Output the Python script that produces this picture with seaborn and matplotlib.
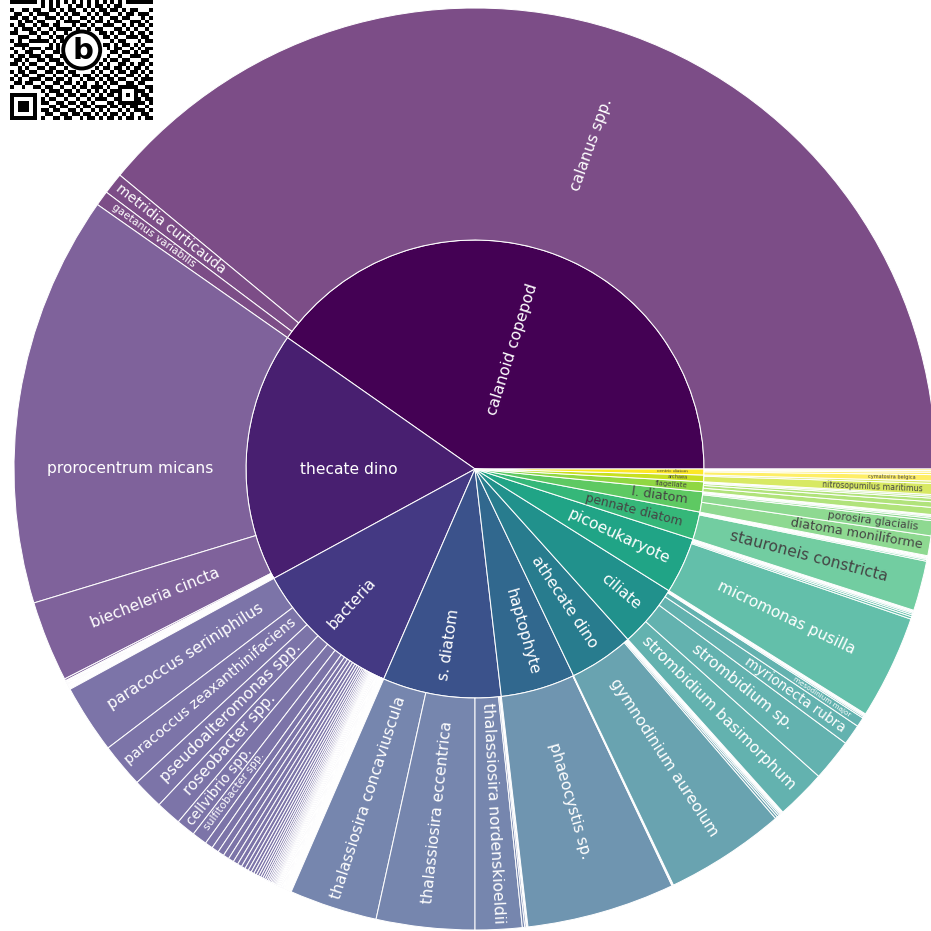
import matplotlib
matplotlib.use("Agg")
import matplotlib.pyplot as plt
import numpy as np
import seaborn as sns
from matplotlib.textpath import TextPath
from matplotlib.font_manager import FontProperties
from matplotlib.patches import Circle

# ---------------- plankton composition: groups (inner ring) and taxa (outer ring)
groups = ["calanoid copepod", "thecate dino", "bacteria", "s. diatom", "haptophyte",
          "athecate dino", "ciliate", "picoeukaryote", "pennate diatom", "l. diatom",
          "flagellate", "archaea", "centric diatom"]

calanoid_taxa = ["calanus spp.", "metridia curticauda", "gaetanus variabilis"]
calanoid_vals = [140.4, 2.7, 1.9]

thecate_taxa = ["prorocentrum micans", "biecheleria cincta"] + [""] * 30
thecate_vals = [51.9, 10.2,
                0.25, 0.1, 0.09, 0.08, 0.07, 0.07, 0.06, 0.06, 0.05, 0.05,
                0.05, 0.04, 0.04, 0.04, 0.04, 0.03, 0.03, 0.03, 0.03, 0.03,
                0.03, 0.02, 0.02, 0.02, 0.02, 0.02, 0.02, 0.02, 0.02, 0.02]

bacteria_taxa = ["paracoccus seriniphilus", "paracoccus zeaxanthinifaciens",
                 "pseudoalteromonas spp.", "roseobacter spp.", "cellvibrio spp.",
                 "sulfitobacter spp."] + [""] * 85
bacteria_vals = [8.7, 5.6, 3.9, 3.2, 2.4, 1.9,
                 1.0, 0.9, 0.8, 0.75, 0.7, 0.62, 0.56, 0.5, 0.46, 0.42,
                 0.38, 0.35, 0.32, 0.3, 0.28, 0.26, 0.24, 0.22, 0.2, 0.19,
                 0.18, 0.17, 0.16, 0.15, 0.14, 0.13, 0.12, 0.11, 0.1, 0.09,
                 0.08, 0.08, 0.07, 0.07, 0.06, 0.06, 0.05, 0.05, 0.04, 0.04,
                 0.04, 0.03, 0.03, 0.03, 0.03,
                 0.02, 0.02, 0.02, 0.02, 0.02, 0.02, 0.02, 0.02, 0.02, 0.02,
                 0.02, 0.02, 0.02, 0.02, 0.02, 0.02, 0.02, 0.02, 0.02, 0.02,
                 0.015, 0.015, 0.015, 0.015, 0.015, 0.015, 0.015, 0.015, 0.015, 0.015,
                 0.015, 0.015, 0.015, 0.015, 0.015, 0.015, 0.015, 0.015, 0.015, 0.015]

sdiatom_taxa = ["thalassiosira concaviuscula", "thalassiosira eccentrica",
                "thalassiosira nordenskioeldii", "", "", "", ""]
sdiatom_vals = [11.1, 12.4, 5.9, 0.3, 0.2, 0.1, 0.1]

haptophyte_taxa = ["phaeocystis sp.", "", ""]
haptophyte_vals = [18.7, 0.1, 0.1]

athecate_taxa = ["gymnodinium aureolum", "", "", "", "", "", "", "", ""]
athecate_vals = [15.2, 0.3, 0.25, 0.2, 0.15, 0.1, 0.1, 0.05, 0.05]

ciliate_taxa = ["strombidium basimorphum", "strombidium sp.", "myrionecta rubra",
                "mesodinium major", "", "", "", "", ""]
ciliate_vals = [6.3, 5.3, 2.6, 1.2, 0.2, 0.15, 0.1, 0.1, 0.05]

picoeuk_taxa = ["micromonas pusilla", "", "", "", "", "", "", ""]
picoeuk_vals = [13.1, 0.3, 0.25, 0.2, 0.15, 0.1, 0.08, 0.07]

pennate_taxa = ["stauroneis constricta", "", "", "", "", "", ""]
pennate_vals = [6.3, 0.2, 0.15, 0.12, 0.1, 0.08, 0.05]

ldiatom_taxa = ["diatoma moniliforme", "porosira glacialis", "", "", "", ""]
ldiatom_vals = [2.5, 1.9, 0.3, 0.2, 0.15, 0.1]

flagellate_taxa = ["", "", "", "", ""]
flagellate_vals = [0.9, 0.7, 0.45, 0.25, 0.2]

archaea_taxa = ["nitrosopumilus maritimus", ""]
archaea_vals = [1.4, 0.3]

centric_taxa = ["cymatosira belgica", "", "", ""]
centric_vals = [0.8, 0.3, 0.2, 0.2]

group_taxa = [calanoid_taxa, thecate_taxa, bacteria_taxa, sdiatom_taxa, haptophyte_taxa,
              athecate_taxa, ciliate_taxa, picoeuk_taxa, pennate_taxa, ldiatom_taxa,
              flagellate_taxa, archaea_taxa, centric_taxa]
group_vals = [calanoid_vals, thecate_vals, bacteria_vals, sdiatom_vals, haptophyte_vals,
              athecate_vals, ciliate_vals, picoeuk_vals, pennate_vals, ldiatom_vals,
              flagellate_vals, archaea_vals, centric_vals]

# ---------------- figure / style
sns.set_theme(style="white")
plt.rcParams["font.family"] = ["DejaVu Sans"]

W = H = 931
CX, CY = 475, 469          # centre of the sunburst in pixels (from top-left)
R1, R2 = 229, 461          # ring radii in pixels
BASE_PX = 15.5             # largest label size in pixels

fig = plt.figure(figsize=(W / 100, H / 100), dpi=100, facecolor="white")
ax = fig.add_axes([0, 0, 1, 1])

cmap = sns.color_palette("viridis", as_cmap=True)
n = len(groups)
group_colors = [np.array(cmap(i / (n - 1))[:3]) for i in range(n)]


def leaf_color(c, alpha=0.7):
    return tuple(alpha * c + (1 - alpha) * 1.0)


inner_vals = [sum(v) for v in group_vals]
outer_vals, outer_labels, outer_colors, outer_parent = [], [], [], []
for gi, (taxa, vals) in enumerate(zip(group_taxa, group_vals)):
    for t, v in zip(taxa, vals):
        outer_vals.append(v)
        outer_labels.append(t)
        outer_colors.append(leaf_color(group_colors[gi]))
        outer_parent.append(gi)

edge = dict(edgecolor="white", linewidth=0.72)
inner_wedges, _ = ax.pie(inner_vals, radius=R1, startangle=0, counterclock=True,
                         colors=[tuple(c) for c in group_colors], wedgeprops=edge)
outer_wedges, _ = ax.pie(outer_vals, radius=R2, startangle=0, counterclock=True,
                         colors=outer_colors, wedgeprops=dict(width=R2 - R1, **edge))

# ---------------- labels
fp = FontProperties(family="DejaVu Sans")


def em_width(s):
    return TextPath((0, 0), s, size=1, prop=fp).get_extents().width


def text_color(c):
    r, g, b = (np.asarray(c) * 255)
    bright = (r * 299 + g * 587 + b * 114) / 1000
    return "#444444" if bright > 128 else "white"


horizontal_labels = {"thecate dino", "prorocentrum micans"}


def put_label(wedge, label, inner, color):
    t1, t2 = wedge.theta1, wedge.theta2
    span = t2 - t1
    mid = 0.5 * (t1 + t2)
    half = np.radians(min(span, 170) / 2)
    wem = em_width(label)

    if label in horizontal_labels:
        # horizontal text sits where the sector crosses the horizontal axis
        ang = 180.0 if t1 <= 180 <= t2 else mid
        rc = 0.55 * R1 if inner else 0.5 * (R1 + R2)
        x, y = rc * np.cos(np.radians(ang)), rc * np.sin(np.radians(ang))
        ax.text(x, y, label, ha="center", va="center", fontsize=BASE_PX * 0.72,
                color=text_color(color), zorder=4)
        return

    s = BASE_PX
    rc = 0.0
    while s >= 3.0:
        L = wem * s
        if inner:
            if span > 60:
                rc = 0.55 * R1
                break
            rc = R1 - 16 - L / 2
            r_in = rc - L / 2
            if r_in > 8 and 2 * r_in * np.sin(half) >= 1.1 * s:
                break
        else:
            if L <= R2 - R1 - 12:
                r_need = 1.1 * s / (2 * np.sin(half))
                rc = max(0.5 * (R1 + R2), r_need + L / 2)
                if rc + L / 2 <= R2 - 6:
                    break
        s -= 0.25
    if s < 3.0:
        return
    m = ((mid + 180) % 360) - 180
    if m > 90:
        rot = m - 180
    elif m < -90:
        rot = m + 180
    else:
        rot = m
    x = rc * np.cos(np.radians(mid))
    y = rc * np.sin(np.radians(mid))
    ax.text(x, y, label, rotation=rot, rotation_mode="anchor", ha="center", va="center",
            fontsize=s * 0.72, color=text_color(color), zorder=4)


for gi, w in enumerate(inner_wedges):
    put_label(w, groups[gi], True, group_colors[gi])
for k, w in enumerate(outer_wedges):
    if outer_labels[k]:
        put_label(w, outer_labels[k], False, group_colors[outer_parent[k]])

# ---------------- QR badge in the top-left corner
qr_rows = [
    "1011001110100101101100101110010110101",
    "0110101001011010011011010001101001110",
    "1100110101100011010100111010110010101",
    "0011010110011101001011000101101110010",
    "1010111000110100110101101100010101101",
    "0101001101101011001110010011101010011",
    "1110100110010110100101101010011101100",
    "0011011010101001011010110101100010111",
    "1001101100110101100101011011010110001",
    "0110010111001010110010101100101101110",
    "1101101001110101001101010011011000101",
    "0010110110001011110010110101100111010",
    "1011001011011000101101001110010101101",
    "0101110100101111010010110001101010010",
    "1100011011010010101101011010110101101",
    "0011101100101101011000101101001110110",
    "1010010111010110100111010010110001011",
    "0111101000101011011010101101011010100",
    "1001011101101100101001110101100101011",
    "0100110010011011010110001011011010110",
    "1011011101100100101011110100100111001",
    "0110100110111011010100101011011000110",
    "1101011001001101101011010100110101101",
    "0010101110110010011010101101101011010",
    "1011010001101101100101010010110110101",
    "0101101110010010110110101101001101010",
    "1010010101101101001011010110110010111",
    "0110111010011011010100101011001101100",
    "1001001101100100101101110100110110011",
    "0111010110111011010010101011010011101",
    "1010101001001101101101010110101100110",
    "0101110110110010010010111001010111011",
    "1100101011001101101101000110101001101",
    "0011010100110110010110111011010110010",
    "1010111011011001101001010100101011101",
    "0101001101100110110110101011010100110",
    "1011100110011011001011010110101101011",
]
N = 37
qr = np.array([[c == "1" for c in row[:N].ljust(N, "0")] for row in qr_rows], dtype=float)


def finder(r, c):
    qr[max(r - 1, 0):min(r + 8, N), max(c - 1, 0):min(c + 8, N)] = 0
    qr[r:r + 7, c:c + 7] = 1
    qr[r + 1:r + 6, c + 1:c + 6] = 0
    qr[r + 2:r + 5, c + 2:c + 5] = 1


finder(0, 0)
finder(0, N - 7)
finder(N - 7, 0)
qr[6, 8:N - 8] = (np.arange(8, N - 8) % 2 == 0)
qr[8:N - 8, 6] = (np.arange(8, N - 8) % 2 == 0)
qr[28:33, 28:33] = 1
qr[29:32, 29:32] = 0
qr[30, 30] = 1
yy, xx = np.mgrid[0:N, 0:N]
qr[(yy - 18.5) ** 2 + (xx - 18.5) ** 2 < 5.6 ** 2] = 0

qx0, qx1, qy0, qy1 = 10, 153, -23, 120   # pixel box of the badge
ax.imshow(qr, cmap="gray_r", vmin=0, vmax=1, interpolation="nearest",
          extent=(qx0 - CX, qx1 - CX, CY - qy1, CY - qy0), zorder=5)
lx, ly = 81.7 - CX, CY - 50
ax.add_patch(Circle((lx, ly), 18.5, facecolor="white", edgecolor="black", linewidth=2.8, zorder=6))
ax.text(lx + 1, ly - 1, "b", fontsize=21, fontweight="bold", ha="center", va="center",
        color="black", zorder=7)

ax.set_xlim(-CX, W - CX)
ax.set_ylim(CY - H, CY)
ax.set_aspect("equal")
ax.axis("off")

fig.savefig("out.png", dpi=100, facecolor="white")
